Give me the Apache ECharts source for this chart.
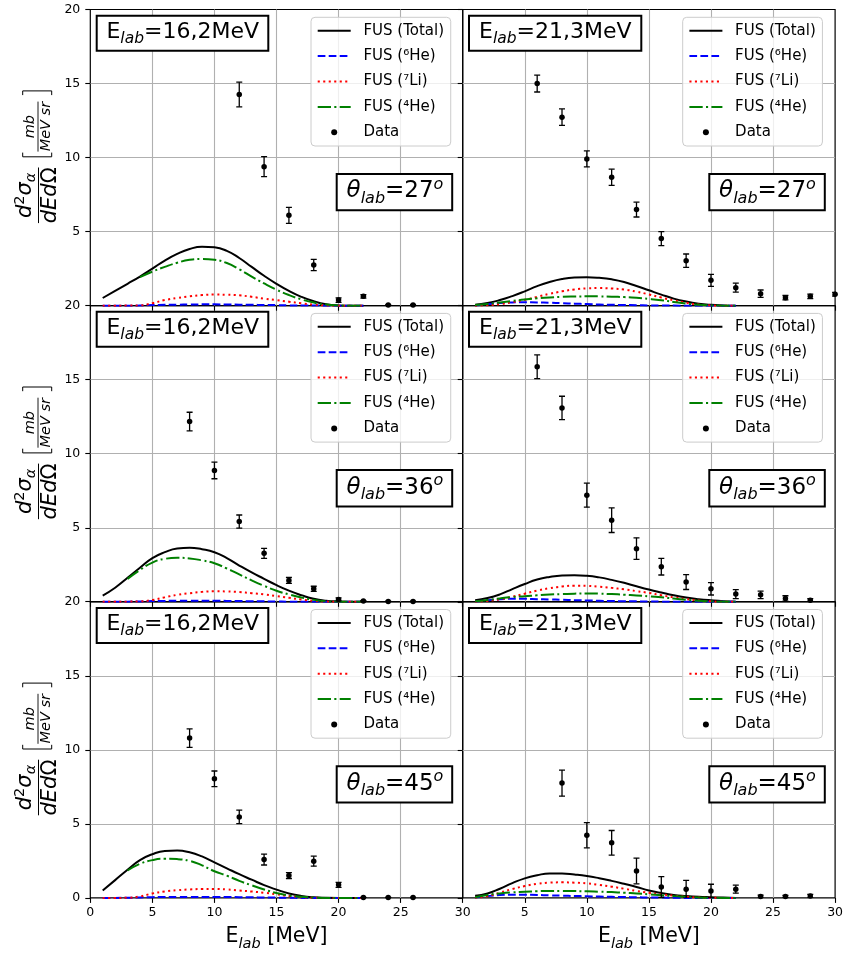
<!DOCTYPE html>
<html><head><meta charset="utf-8">
<script src="https://cdn.jsdelivr.net/npm/echarts@6/dist/echarts.min.js"></script>
<style>html,body{margin:0;padding:0;background:#fff}#c{width:843px;height:953px}</style>
</head><body><div id="c"></div>
<script>
// ---------- DATA ----------
const curveX = [1,2,3,4,5,6,7,8,9,10,11,12,13,14,15,16,17,18,19,20,21,22];
const xTicks = [0,5,10,15,20,25,30];
const yTicks = [0,5,10,15,20];
const angleLabels = ['27','36','45'];
const energyLabels = ['16,2','21,3'];
const seriesNames = ['FUS (Total)','FUS (\u2076He)','FUS (\u2077Li)','FUS (\u2074He)','Data'];

// theta=27, E=16,2 MeV
const total_27_162 = [0.52,1.0,1.48,1.97,2.5,3.05,3.5,3.83,3.98,3.94,3.7,3.22,2.62,2.02,1.48,1.0,0.6,0.3,0.1,0.02,0,0];
const he6_27_162   = [0,0,0,0.01,0.04,0.06,0.07,0.08,0.09,0.09,0.08,0.07,0.06,0.05,0.04,0.02,0.01,0.01,0,0,0,0];
const li7_27_162   = [0,0,0.01,0.02,0.17,0.38,0.52,0.63,0.72,0.75,0.74,0.7,0.6,0.48,0.38,0.27,0.16,0.07,0.02,0,0,0];
const he4_27_162   = [null,null,null,1.93,2.3,2.62,2.9,3.1,3.16,3.1,2.88,2.46,1.96,1.5,1.08,0.72,0.43,0.21,0.08,0.02,0,0];
const dataX_27_162 = [12,14,16,18,20,22,24,26];
const dataY_27_162 = [14.26,9.39,6.1,2.75,0.38,0.63,0.04,0.04];
const dataE_27_162 = [0.83,0.68,0.54,0.38,0.15,0.12,0.03,0.03];

// theta=27, E=21,3 MeV
const total_27_213 = [0.07,0.18,0.38,0.65,0.97,1.32,1.6,1.8,1.9,1.92,1.88,1.78,1.6,1.33,1.04,0.75,0.48,0.28,0.14,0.06,0.02,0];
const he6_27_213   = [0.02,0.1,0.18,0.22,0.23,0.22,0.2,0.17,0.14,0.11,0.08,0.06,0.05,0.03,0.02,0.01,0.01,0,0,0,0,0];
const li7_27_213   = [0,0.03,0.1,0.24,0.4,0.6,0.8,0.97,1.1,1.17,1.19,1.16,1.09,0.95,0.76,0.55,0.36,0.2,0.08,0.02,0,0];
const he4_27_213   = [0.05,0.12,0.22,0.32,0.42,0.5,0.56,0.6,0.62,0.63,0.63,0.61,0.58,0.53,0.46,0.37,0.25,0.14,0.06,0.02,0,0];
const dataX_27_213 = [6,8,10,12,14,16,18,20,22,24,26,28,30];
const dataY_27_213 = [15.0,12.73,9.91,8.67,6.49,4.53,3.04,1.71,1.22,0.81,0.54,0.63,0.77];
const dataE_27_213 = [0.57,0.56,0.54,0.55,0.5,0.47,0.45,0.4,0.3,0.25,0.15,0.15,0.13];

// theta=36, E=16,2 MeV
const total_36_162 = [0.42,0.95,1.62,2.3,2.95,3.35,3.6,3.65,3.55,3.35,2.95,2.45,1.98,1.55,1.12,0.75,0.45,0.2,0.07,0.02,0,0];
const he6_36_162   = [0,0,0.01,0.02,0.05,0.06,0.07,0.07,0.07,0.07,0.06,0.05,0.04,0.03,0.02,0.01,0.01,0,0,0,0,0];
const li7_36_162   = [0,0,0.01,0.03,0.12,0.3,0.47,0.58,0.67,0.71,0.7,0.66,0.58,0.5,0.38,0.27,0.15,0.07,0.02,0,0,0];
const he4_36_162   = [null,null,1.55,2.15,2.65,2.9,2.97,2.93,2.8,2.6,2.25,1.85,1.45,1.08,0.75,0.5,0.29,0.13,0.04,0.01,0,0];
const dataX_36_162 = [8,10,12,14,16,18,20,22,24,26];
const dataY_36_162 = [12.17,8.87,5.42,3.27,1.44,0.88,0.16,0.05,0.02,0.02];
const dataE_36_162 = [0.63,0.56,0.44,0.34,0.2,0.17,0.1,0.03,0.02,0.02];

// theta=36, E=21,3 MeV
const total_36_213 = [0.11,0.25,0.5,0.86,1.2,1.5,1.68,1.78,1.8,1.76,1.65,1.48,1.28,1.05,0.83,0.63,0.44,0.29,0.18,0.1,0.04,0.01];
const he6_36_213   = [0.02,0.1,0.17,0.2,0.2,0.18,0.16,0.14,0.11,0.09,0.07,0.05,0.04,0.03,0.02,0.01,0,0,0,0,0,0];
const li7_36_213   = [0.01,0.06,0.17,0.35,0.55,0.76,0.92,1.03,1.09,1.08,1.02,0.94,0.84,0.72,0.6,0.44,0.3,0.18,0.09,0.03,0,0];
const he4_36_213   = [0.03,0.12,0.23,0.32,0.38,0.44,0.49,0.52,0.55,0.56,0.55,0.52,0.48,0.43,0.37,0.3,0.22,0.14,0.07,0.03,0,0];
const dataX_36_213 = [6,8,10,12,14,16,18,20,22,24,26,28];
const dataY_36_213 = [15.87,13.09,7.2,5.51,3.59,2.37,1.33,0.88,0.52,0.47,0.23,0.11];
const dataE_36_213 = [0.8,0.79,0.81,0.83,0.73,0.56,0.5,0.42,0.3,0.25,0.18,0.1];

// theta=45, E=16,2 MeV
const total_45_162 = [0.5,1.2,1.9,2.55,2.95,3.17,3.2,3.08,2.8,2.4,2.0,1.6,1.23,0.86,0.56,0.3,0.13,0.04,0.01,0,0,0];
const he6_45_162   = [0,0,0.01,0.03,0.05,0.06,0.06,0.06,0.06,0.06,0.06,0.05,0.04,0.03,0.02,0.01,0,0,0,0,0,0];
const li7_45_162   = [0,0,0.01,0.1,0.3,0.43,0.52,0.57,0.6,0.6,0.57,0.5,0.43,0.35,0.25,0.13,0.05,0.01,0,0,0,0];
const he4_45_162   = [null,null,1.85,2.3,2.55,2.64,2.62,2.5,2.2,1.8,1.5,1.15,0.85,0.57,0.33,0.16,0.07,0.02,0,0,0,0];
const dataX_45_162 = [8,10,12,14,16,18,20,22,24,26];
const dataY_45_162 = [10.79,8.04,5.47,2.59,1.51,2.48,0.88,0.02,0.02,0.02];
const dataE_45_162 = [0.62,0.53,0.46,0.37,0.2,0.34,0.17,0.02,0.02,0.02];

// theta=45, E=21,3 MeV
const total_45_213 = [0.14,0.3,0.62,1.0,1.32,1.53,1.65,1.65,1.58,1.48,1.33,1.15,0.95,0.74,0.5,0.33,0.2,0.13,0.08,0.05,0.02,0];
const he6_45_213   = [0.03,0.12,0.19,0.22,0.22,0.2,0.17,0.15,0.13,0.11,0.09,0.07,0.06,0.04,0.03,0.02,0.01,0,0,0,0,0];
const li7_45_213   = [0.02,0.12,0.35,0.6,0.8,0.95,1.03,1.05,1.03,0.98,0.88,0.76,0.62,0.47,0.34,0.24,0.15,0.08,0.03,0.01,0,0];
const he4_45_213   = [0.05,0.2,0.3,0.37,0.41,0.45,0.47,0.47,0.46,0.45,0.42,0.39,0.35,0.3,0.24,0.18,0.12,0.07,0.03,0.01,0,0];
const dataX_45_213 = [8,10,12,14,16,18,20,22,24,26,28];
const dataY_45_213 = [7.75,4.23,3.72,1.82,0.74,0.59,0.47,0.59,0.09,0.09,0.12];
const dataE_45_213 = [0.88,0.85,0.83,0.87,0.7,0.6,0.45,0.27,0.1,0.08,0.12];

const panels = [
  {row:0,col:0,total:total_27_162,he6:he6_27_162,li7:li7_27_162,he4:he4_27_162,dx:dataX_27_162,dy:dataY_27_162,de:dataE_27_162},
  {row:0,col:1,total:total_27_213,he6:he6_27_213,li7:li7_27_213,he4:he4_27_213,dx:dataX_27_213,dy:dataY_27_213,de:dataE_27_213},
  {row:1,col:0,total:total_36_162,he6:he6_36_162,li7:li7_36_162,he4:he4_36_162,dx:dataX_36_162,dy:dataY_36_162,de:dataE_36_162},
  {row:1,col:1,total:total_36_213,he6:he6_36_213,li7:li7_36_213,he4:he4_36_213,dx:dataX_36_213,dy:dataY_36_213,de:dataE_36_213},
  {row:2,col:0,total:total_45_162,he6:he6_45_162,li7:li7_45_162,he4:he4_45_162,dx:dataX_45_162,dy:dataY_45_162,de:dataE_45_162},
  {row:2,col:1,total:total_45_213,he6:he6_45_213,li7:li7_45_213,he4:he4_45_213,dx:dataX_45_213,dy:dataY_45_213,de:dataE_45_213}
];

// ---------- LAYOUT ----------
const FONT = 'DejaVu Sans';
const gridLeft = [90.3, 462.7];
const gridW = 372.4;
const panelTop = [9.5, 305.6, 601.7];
const panelH = 296.2;
const legendLeft = [311, 682.7];
const eBoxX = [96.7, 469], eBoxW = [171.6, 172.3], eTextX = [182.7, 555.3];
const tBoxX = [336.7, 709.3], tBoxW = 115.5, tTextX = [395, 767.5];

const styles = {
  total:{color:'#000000', type:'solid'},
  he6:{color:'#0000ff', type:[7.7,3.3]},
  li7:{color:'#ff0000', type:[2.1,3.4]},
  he4:{color:'#008000', type:[13.3,3.3,2.1,3.3]}
};
const keys = ['total','he6','li7','he4'];

const grids = [], xAxes = [], yAxes = [], series = [], legends = [], graphics = [];

const subRich = {
  n:{fontSize:22, fontFamily:FONT, color:'#000', lineHeight:30},
  s:{fontSize:15.5, fontFamily:FONT, fontStyle:'italic', color:'#000', lineHeight:20, verticalAlign:'bottom'},
  t:{fontSize:23, fontFamily:FONT, fontStyle:'italic', color:'#000', lineHeight:30},
  ts:{fontSize:16, fontFamily:FONT, fontStyle:'italic', color:'#000', lineHeight:20, verticalAlign:'bottom'},
  tn:{fontSize:23, fontFamily:FONT, color:'#000', lineHeight:30},
  tp:{fontSize:16, fontFamily:FONT, fontStyle:'italic', color:'#000', lineHeight:18, verticalAlign:'top'}
};

panels.forEach((p, i) => {
  const top = panelTop[p.row];
  grids.push({left:gridLeft[p.col], top:top, width:gridW, height:panelH, show:true,
    borderColor:'#000', borderWidth:1.2, backgroundColor:'rgba(0,0,0,0)', containLabel:false, outerBoundsMode:'none'});
  const isBottom = p.row === 2;
  xAxes.push({gridIndex:i, type:'value', min:xTicks[0], max:xTicks[xTicks.length-1], interval:5,
    axisLine:{show:false},
    axisTick:{show:true, length:5, lineStyle:{color:'#000', width:1.1}},
    axisLabel:{show:isBottom, fontSize:12.5, fontFamily:FONT, color:'#000', margin:8, showMinLabel:p.col===0},
    splitLine:{show:true, showMinLine:false, showMaxLine:false, lineStyle:{color:'#b0b0b0', width:1.1}},
    name: isBottom ? '{n|E}{s|lab}{n| [MeV]}' : '', nameLocation:'middle', nameGap:24,
    nameTextStyle:{rich:{
      n:{fontSize:20.5, fontFamily:FONT, color:'#000', lineHeight:30},
      s:{fontSize:14.5, fontFamily:FONT, fontStyle:'italic', color:'#000', lineHeight:20, verticalAlign:'bottom'}
    }}
  });
  yAxes.push({gridIndex:i, type:'value', min:yTicks[0], max:yTicks[yTicks.length-1], interval:5,
    axisLine:{show:false},
    axisTick:{show:true, length:5, lineStyle:{color:'#000', width:1.1}},
    axisLabel:{show:p.col===0, fontSize:12.5, fontFamily:FONT, color:'#000', margin:10, showMinLabel:p.row===2},
    splitLine:{show:true, showMinLine:false, showMaxLine:false, lineStyle:{color:'#b0b0b0', width:1.1}}
  });
  keys.forEach((k, j) => {
    series.push({type:'line', name:seriesNames[j], xAxisIndex:i, yAxisIndex:i,
      data: curveX.map((x, m) => [x, p[k][m] === null ? '-' : p[k][m]]),
      symbol:'none', showSymbol:false, smooth:0.5, connectNulls:false,
      lineStyle:{color:styles[k].color, width:2, type:styles[k].type, cap:'butt', join:'round'},
      itemStyle:{color:styles[k].color}, z:2, silent:true});
  });
  series.push({type:'custom', name:'Data err', xAxisIndex:i, yAxisIndex:i, clip:true, silent:true, z:3,
    data: p.dx.map((x, m) => [x, p.dy[m], p.de[m]]),
    encode:{x:0, y:1},
    renderItem:(params, api) => {
      const x = api.value(0), y = api.value(1), e = api.value(2);
      const a = api.coord([x, y + e]), b = api.coord([x, y - e]);
      const hw = 3, st = {stroke:'#000', lineWidth:1.3};
      return {type:'group', children:[
        {type:'line', shape:{x1:a[0], y1:a[1], x2:b[0], y2:b[1]}, style:st},
        {type:'line', shape:{x1:a[0]-hw, y1:a[1], x2:a[0]+hw, y2:a[1]}, style:st},
        {type:'line', shape:{x1:b[0]-hw, y1:b[1], x2:b[0]+hw, y2:b[1]}, style:st}
      ]};
    }});
  series.push({type:'scatter', name:'Data', xAxisIndex:i, yAxisIndex:i, silent:true, z:4,
    data: p.dx.map((x, m) => [x, p.dy[m]]), symbol:'circle', symbolSize:5.5,
    itemStyle:{color:'#000', opacity:1}});

  legends.push({show:true, orient:'vertical', left:legendLeft[p.col], top:top + 7.8,
    itemWidth:33, itemHeight:6, itemGap:7.4, padding:[4.4, 6.7, 4.7, 5.7], selectedMode:false,
    backgroundColor:'rgba(255,255,255,0.8)', borderColor:'#cccccc', borderWidth:1, borderRadius:4,
    textStyle:{fontFamily:FONT, fontSize:15, color:'#000', lineHeight:18, padding:[0,0,0,7.7]},
    data: seriesNames.map((n, j) => j < 4 ? {name:n, itemStyle:{color:'rgba(0,0,0,0)', borderWidth:0}} : {name:n, icon:'circle'})
  });

  // E_lab box
  graphics.push({type:'rect', z:100, shape:{x:eBoxX[p.col], y:top + 6.2, width:eBoxW[p.col], height:35},
    style:{fill:'#fff', stroke:'#000', lineWidth:2}});
  graphics.push({type:'text', z:101, x:eTextX[p.col], y:top + 22.5,
    style:{text:'{n|E}{s|lab}{n|=' + energyLabels[p.col] + 'MeV}', rich:subRich,
      align:'center', verticalAlign:'middle', textAlign:'center', textVerticalAlign:'middle'}});
  // theta box
  graphics.push({type:'rect', z:100, shape:{x:tBoxX[p.col], y:top + 164.5, width:tBoxW, height:36.3},
    style:{fill:'#fff', stroke:'#000', lineWidth:2}});
  graphics.push({type:'text', z:101, x:tTextX[p.col], y:top + 182,
    style:{text:'{t|\u03b8}{ts|lab}{tn|=' + angleLabels[p.row] + '}{tp|o}', rich:subRich,
      align:'center', verticalAlign:'middle', textAlign:'center', textVerticalAlign:'middle'}});
});

// y-axis label (rotated math) for each row
const yRich = {
  i:{fontSize:21, fontFamily:FONT, fontStyle:'italic', color:'#000', lineHeight:26},
  u:{fontSize:21, fontFamily:FONT, color:'#000', lineHeight:26},
  sp:{fontSize:14.5, fontFamily:FONT, color:'#000', lineHeight:16, verticalAlign:'top'},
  sb:{fontSize:14.5, fontFamily:FONT, fontStyle:'italic', color:'#000', lineHeight:16, verticalAlign:'bottom'},
  m:{fontSize:14.5, fontFamily:FONT, fontStyle:'italic', color:'#000', lineHeight:18}
};
panelTop.forEach((t) => {
  const cy = t + panelH / 2;
  graphics.push({type:'group', x:38.5, y:cy, rotation:Math.PI / 2, z:50, children:[
    {type:'line', shape:{x1:-65.5, y1:0, x2:-9.9, y2:0}, style:{stroke:'#000', lineWidth:1}},
    {type:'text', x:-37.7, y:-12.5, style:{text:'{i|d}{sp|2}{i|\u03c3}{sb|\u03b1}', rich:yRich, align:'center', verticalAlign:'middle', textAlign:'center', textVerticalAlign:'middle'}},
    {type:'text', x:-37.7, y:12.3, style:{text:'{i|dEd}{u|\u03a9}', rich:yRich, align:'center', verticalAlign:'middle', textAlign:'center', textVerticalAlign:'middle'}},
    {type:'polyline', shape:{points:[[5,-15.8],[0.8,-15.8],[0.8,13.2],[5,13.2]]}, style:{stroke:'#000', lineWidth:1, fill:null}},
    {type:'polyline', shape:{points:[[62.5,-15.8],[66.7,-15.8],[66.7,13.2],[62.5,13.2]]}, style:{stroke:'#000', lineWidth:1, fill:null}},
    {type:'line', shape:{x1:6, y1:-0.5, x2:56, y2:-0.5}, style:{stroke:'#000', lineWidth:0.9}},
    {type:'text', x:31, y:-8, style:{text:'{m|mb}', rich:yRich, align:'center', verticalAlign:'middle', textAlign:'center', textVerticalAlign:'middle'}},
    {type:'text', x:31, y:7.8, style:{text:'{m|MeV sr}', rich:yRich, align:'center', verticalAlign:'middle', textAlign:'center', textVerticalAlign:'middle'}}
  ]});
});

const chart = echarts.init(document.getElementById('c'), null, {renderer:'canvas'});
chart.setOption({
  animation:false,
  backgroundColor:'#ffffff',
  textStyle:{fontFamily:FONT},
  grid:grids, xAxis:xAxes, yAxis:yAxes, series:series, legend:legends, graphic:graphics
});
</script></body></html>
